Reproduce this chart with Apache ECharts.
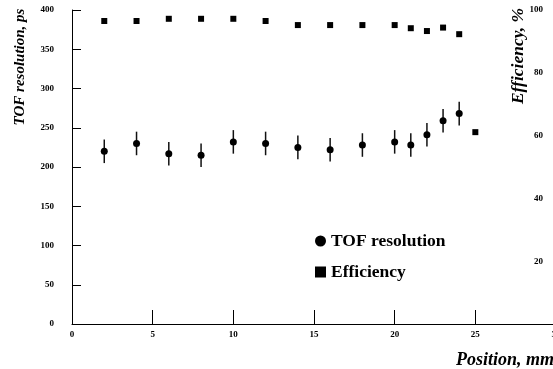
<!DOCTYPE html>
<html>
<head>
<meta charset="utf-8">
<script src="https://cdn.jsdelivr.net/npm/echarts@6/dist/echarts.min.js"></script>
<style>
  html, body { margin: 0; padding: 0; background: #fff; }
  #chart { width: 553px; height: 369px; }
</style>
</head>
<body>
<div id="chart"></div>
<script>
// position along the detector, mm
var positions = [2, 4, 6, 8, 10, 12, 14, 16, 18, 20, 21, 22, 23, 24];
var tofRes = [220, 230, 217, 215, 232, 230, 225, 222, 228, 232, 228, 241, 259, 268];
var tofErr = [15, 15, 15, 15, 15, 15, 15, 15, 15, 15, 15, 15, 15, 15];

var effPositions = [2, 4, 6, 8, 10, 12, 14, 16, 18, 20, 21, 22, 23, 24, 25];
var efficiency = [96.5, 96.5, 97.2, 97.2, 97.2, 96.5, 95.2, 95.2, 95.2, 95.2, 94.2, 93.3, 94.4, 92.3, 61.1];

var serif = '"Liberation Serif", "DejaVu Serif", serif';

var tofData = positions.map(function (p, i) { return [p, tofRes[i]]; });
var errData = positions.map(function (p, i) { return [p, tofRes[i] - tofErr[i], tofRes[i] + tofErr[i]]; });
var effData = effPositions.map(function (p, i) { return [p, efficiency[i]]; });

var chart = echarts.init(document.getElementById('chart'));

var option = {
    animation: false,
    backgroundColor: '#fff',
    grid: { left: 72, right: -3, top: 10, bottom: 45, containLabel: false, outerBoundsMode: 'none' },
    legend: {
        orient: 'vertical',
        left: 310,
        top: 227,
        itemWidth: 11,
        itemHeight: 11,
        itemGap: 13,
        itemStyle: { opacity: 1 },
        textStyle: { fontFamily: serif, fontWeight: 'bold', fontSize: 17.5, color: '#000' },
        data: [
            { name: 'TOF resolution', icon: 'circle' },
            { name: 'Efficiency', icon: 'rect' }
        ]
    },
    xAxis: {
        type: 'value',
        min: 0, max: 30, interval: 5,
        axisLine: { lineStyle: { color: '#000', width: 1 } },
        axisTick: { inside: true, length: 14, lineStyle: { color: '#000' } },
        axisLabel: { margin: 6, fontFamily: serif, fontWeight: 'bold', fontSize: 9, color: '#000' },
        splitLine: { show: false }
    },
    yAxis: [
        {
            type: 'value',
            min: 0, max: 400, interval: 50,
            axisLine: { show: true, lineStyle: { color: '#000', width: 1 } },
            axisTick: { show: true, inside: true, length: 9, lineStyle: { color: '#000' } },
            axisLabel: { margin: 18, fontFamily: serif, fontWeight: 'bold', fontSize: 9, color: '#000' },
            splitLine: { show: false }
        },
        {
            type: 'value',
            position: 'right',
            min: 0, max: 100, interval: 20,
            axisLine: { show: false },
            axisTick: { show: false },
            axisLabel: {
                inside: true, margin: 13,
                fontFamily: serif, fontWeight: 'bold', fontSize: 9, color: '#000',
                formatter: function (v) { return v === 0 ? '' : v; }
            },
            splitLine: { show: false }
        }
    ],
    graphic: [
        {
            type: 'text', x: 20, y: 67, rotation: Math.PI / 2,
            style: {
                text: 'TOF resolution, ps', fill: '#000',
                font: 'italic bold 15px ' + serif,
                textAlign: 'center', textVerticalAlign: 'middle'
            }
        },
        {
            type: 'text', x: 518, y: 56, rotation: Math.PI / 2,
            style: {
                text: 'Efficiency, %', fill: '#000',
                font: 'italic bold 17.5px ' + serif,
                textAlign: 'center', textVerticalAlign: 'middle'
            }
        },
        {
            type: 'text', x: 456, y: 360,
            style: {
                text: 'Position, mm', fill: '#000',
                font: 'italic bold 18px ' + serif,
                textAlign: 'left', textVerticalAlign: 'middle'
            }
        }
    ],
    series: [
        {
            name: 'TOF error',
            type: 'custom',
            xAxisIndex: 0,
            yAxisIndex: 0,
            z: 1,
            renderItem: function (params, api) {
                var lo = api.coord([api.value(0), api.value(1)]);
                var hi = api.coord([api.value(0), api.value(2)]);
                return {
                    type: 'line',
                    shape: { x1: lo[0], y1: lo[1], x2: hi[0], y2: hi[1] },
                    style: { stroke: '#111', lineWidth: 1.5 }
                };
            },
            encode: { x: 0, y: [1, 2] },
            data: errData
        },
        {
            name: 'TOF resolution',
            type: 'scatter',
            yAxisIndex: 0,
            symbol: 'circle',
            symbolSize: 7,
            z: 3,
            itemStyle: { color: '#000', opacity: 1 },
            data: tofData
        },
        {
            name: 'Efficiency',
            type: 'scatter',
            yAxisIndex: 1,
            symbol: 'rect',
            symbolSize: 6,
            z: 3,
            itemStyle: { color: '#000', opacity: 1 },
            data: effData
        }
    ]
};

chart.setOption(option);
</script>
</body>
</html>
